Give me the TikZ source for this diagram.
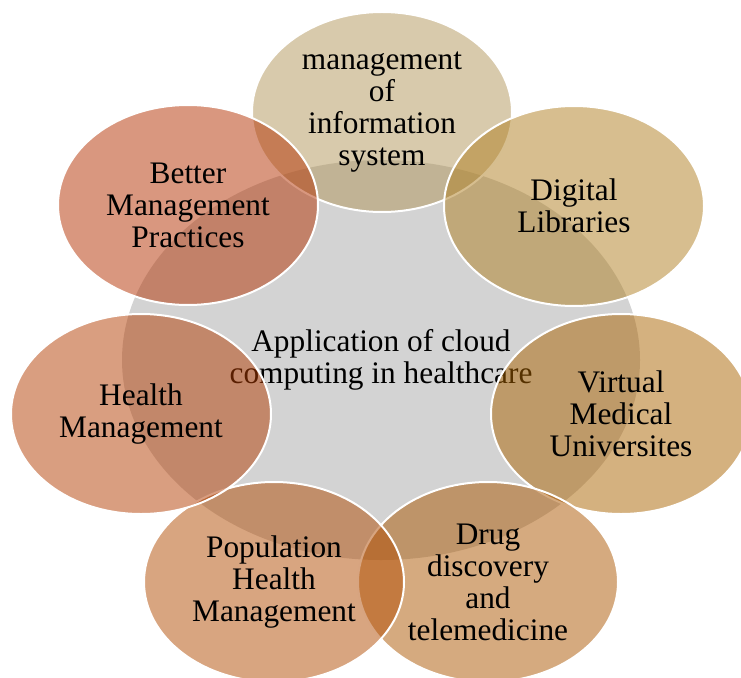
\documentclass[tikz,border=0pt]{standalone}
\usepackage{fontspec}
\setmainfont{Liberation Serif}
\usepackage{tikz}
\usetikzlibrary{shapes.geometric}

\definecolor{hubgray}{RGB}{211,211,211}
\definecolor{misc}{RGB}{177,149,89}
\definecolor{libc}{RGB}{175,126,32}
\definecolor{vmuc}{RGB}{170,99,0}
\definecolor{drugc}{RGB}{171,86,0}
\definecolor{phmc}{RGB}{177,75,2}
\definecolor{hmc}{RGB}{179,61,2}
\definecolor{bmpc}{RGB}{179,48,0}

\begin{document}
\begin{tikzpicture}[x=0.75pt,y=-0.75pt,
  label text/.style={align=center,font=\fontsize{23.5}{24}\selectfont},
  hub/.style={ellipse,fill=hubgray,inner sep=0pt,
    minimum width=388.5pt,minimum height=300pt,label text},
  petal/.style={ellipse,draw=white,line width=1.5pt,fill=#1,
    fill opacity=0.5,text opacity=1,inner sep=0pt,
    minimum width=195pt,minimum height=150pt,label text}]
	 \useasboundingbox (0,0) rectangle (741,677);
	 \node[hub] (hub) at (381,360) {Application of cloud\\computing in healthcare};
	 \node[petal=misc]  (mis)  at (382,112) {management\\of\\information\\system};
	 \node[petal=libc]  (libs) at (574,206) {Digital\\Libraries};
	 \node[petal=vmuc]  (vmu)  at (621,414) {Virtual\\Medical\\Universites};
	 \node[petal=drugc] (drug) at (488,582) {Drug\\discovery\\and\\telemedicine};
	 \node[petal=phmc]  (phm)  at (274,582) {Population\\Health\\Management};
	 \node[petal=hmc]   (hm)   at (141,414) {Health\\Management};
	 \node[petal=bmpc]  (bmp)  at (188,205) {Better\\Management\\Practices};
\end{tikzpicture}
\end{document}
